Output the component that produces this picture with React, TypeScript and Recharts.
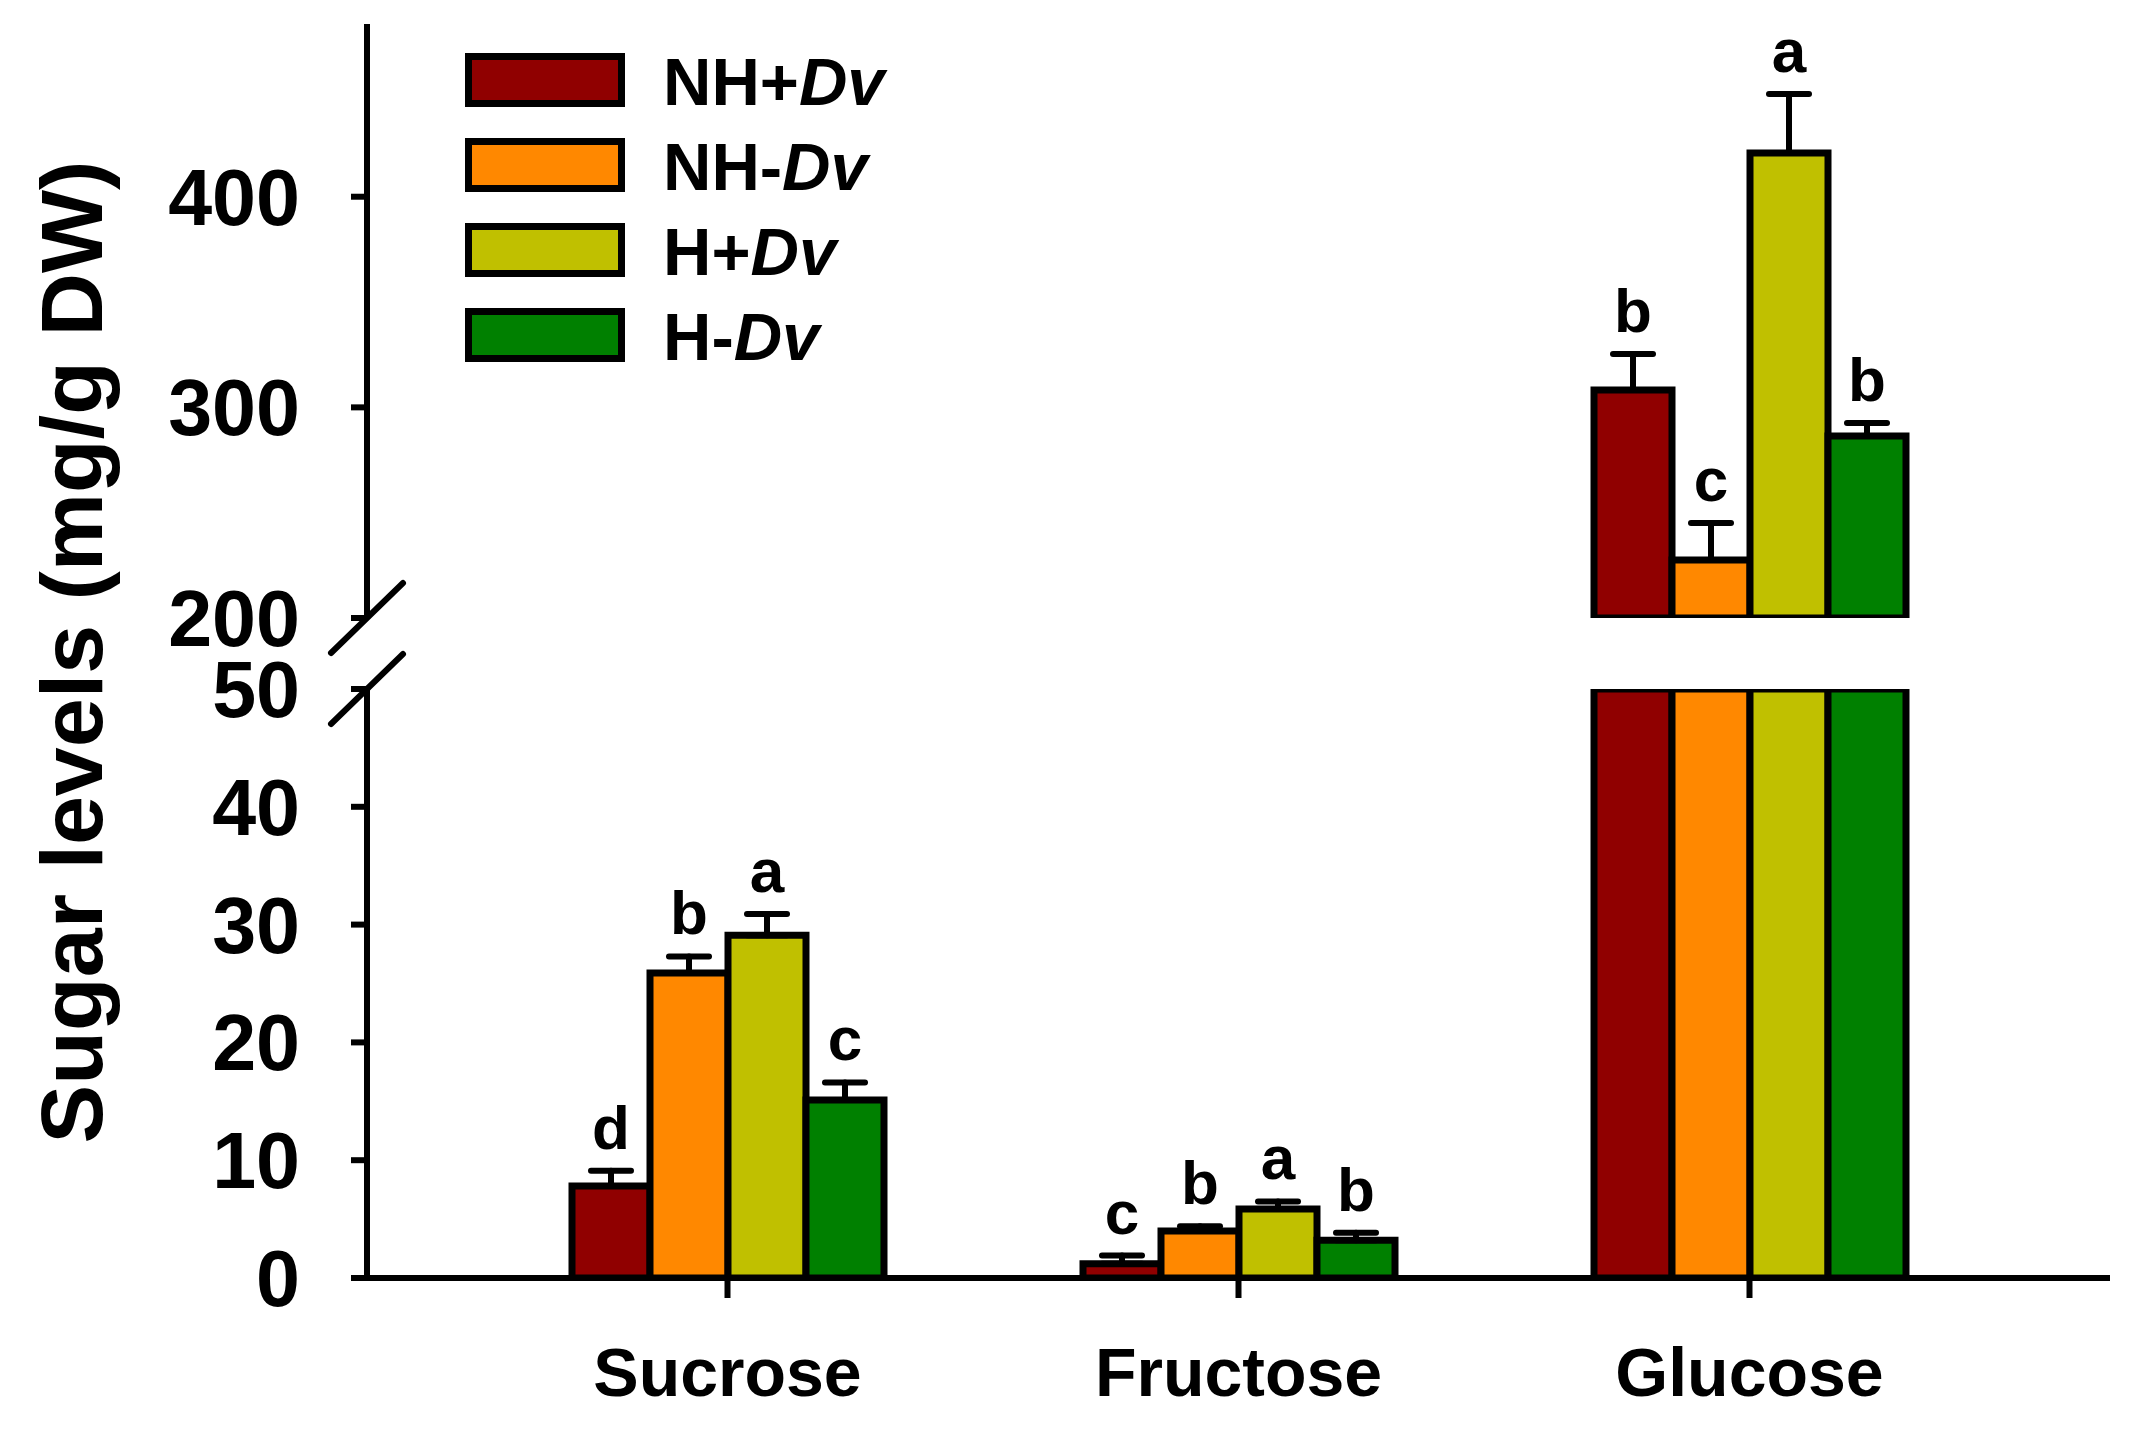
import React from "react";
import { BarChart, Bar, XAxis, YAxis, ErrorBar, LabelList, Legend } from "recharts";

// ---- data ----
const categories = ["Sucrose", "Fructose", "Glucose"];

const nhPlusDv = [7.8, 1.2, 308.3];
const nhPlusDvErr = [1.3, 0.7, 17];
const nhPlusDvLetters = ["d", "c", "b"];

const nhMinusDv = [25.9, 4.0, 227.5];
const nhMinusDvErr = [1.4, 0.4, 17.6];
const nhMinusDvLetters = ["b", "b", "c"];

const hPlusDv = [29.1, 5.85, 420.8];
const hPlusDvErr = [1.8, 0.65, 28];
const hPlusDvLetters = ["a", "a", "a"];

const hMinusDv = [15.1, 3.2, 286.4];
const hMinusDvErr = [1.5, 0.65, 6.2];
const hMinusDvLetters = ["c", "b", "b"];

const lowerTicks = [0, 10, 20, 30, 40, 50];
const upperTicks = [200, 300, 400];
const LOWER_MAX = 50;
const UPPER_MIN = 200;
const UPPER_MAX = 482;

const series = [
  { key: "nhPlus", name: "NH+Dv", color: "#900000", values: nhPlusDv, errs: nhPlusDvErr, letters: nhPlusDvLetters },
  { key: "nhMinus", name: "NH-Dv", color: "#FF8800", values: nhMinusDv, errs: nhMinusDvErr, letters: nhMinusDvLetters },
  { key: "hPlus", name: "H+Dv", color: "#C0C000", values: hPlusDv, errs: hPlusDvErr, letters: hPlusDvLetters },
  { key: "hMinus", name: "H-Dv", color: "#008000", values: hMinusDv, errs: hMinusDvErr, letters: hMinusDvLetters },
];

// lower panel: values clipped at the break; upper panel: only values above the break
const lowerData = categories.map((name, i) => {
  const row: any = { name };
  series.forEach((s) => {
    const v = s.values[i];
    row[s.key] = Math.min(v, LOWER_MAX);
    row[s.key + "Err"] = v <= LOWER_MAX ? [0, s.errs[i]] : null;
  });
  return row;
});

const upperData = categories.map((name, i) => {
  const row: any = { name };
  series.forEach((s) => {
    const v = s.values[i];
    row[s.key] = v >= UPPER_MIN ? v : null;
    row[s.key + "Err"] = v >= UPPER_MIN ? [0, s.errs[i]] : null;
  });
  return row;
});

const FONT = "'Liberation Sans', Arial, Helvetica, sans-serif";
const W = 2131;
const H = 1433;
const AXIS_X = 367;
const RIGHT_MARGIN = 21;
const UPPER_TOP = 24;
const UPPER_BOTTOM = 618;
const LOWER_TOP = 689;
const LOWER_BOTTOM = 1278;
const STROKE = 6;
const BAR_STROKE = 7;

// letter label sits above the error bar; category found from the label value (name)
const letterLabel = (s: any, show: (v: number) => boolean, base: number) => (props: any) => {
  const { x, y, width, height, value } = props;
  const i = categories.indexOf(String(value));
  if (i < 0) return null;
  const v = s.values[i];
  if (!show(v)) return null;
  const ppu = Number(height) / (v - base);
  const top = Number(y) - s.errs[i] * ppu;
  return (
    <text
      x={Number(x) + Number(width) / 2}
      y={top - 22}
      textAnchor="middle"
      fontFamily={FONT}
      fontWeight="bold"
      fontSize={62}
      fill="#000"
    >
      {s.letters[i]}
    </text>
  );
};

const LegendBox = () => (
  <svg width={420} height={85 * 4} style={{ overflow: "visible" }}>
    {series.map((s, i) => {
      const prefix = s.name.replace("Dv", "");
      return (
        <g key={s.key} transform={`translate(0, ${i * 85})`}>
          <rect x={3.5} y={3.5} width={153} height={47} fill={s.color} stroke="#000" strokeWidth={7} />
          <text x={198} y={52} fontFamily={FONT} fontWeight="bold" fontSize={67} fill="#000">
            {prefix}
            <tspan fontStyle="italic">Dv</tspan>
          </text>
        </g>
      );
    })}
  </svg>
);

const yTick = { fontSize: 79, fontWeight: "bold", fill: "#000", fontFamily: FONT };
const xTick = { fontSize: 68, fontWeight: "bold", fill: "#000", fontFamily: FONT };

export default function App() {
  const breakMark = (yc: number) => (
    <line
      x1={AXIS_X - 36}
      y1={yc + 35}
      x2={AXIS_X + 36}
      y2={yc - 35}
      stroke="#000"
      strokeWidth={STROKE}
      strokeLinecap="round"
    />
  );

  return (
    <div style={{ position: "absolute", left: 0, top: 0, width: W, height: H, background: "#fff", overflow: "hidden" }}>
      {/* lower panel 0-50 */}
      <div style={{ position: "absolute", left: 0, top: 0 }}>
        <BarChart
          width={W}
          height={H}
          data={lowerData}
          margin={{ top: LOWER_TOP, right: RIGHT_MARGIN, bottom: 0, left: 0 }}
          barCategoryGap={100}
          barGap={0}
        >
          <XAxis
            dataKey="name"
            height={H - LOWER_BOTTOM}
            padding={{ left: 105, right: 105 }}
            axisLine={{ stroke: "#000", strokeWidth: STROKE }}
            tickLine={{ stroke: "#000", strokeWidth: STROKE }}
            tickSize={20}
            tickMargin={50}
            tick={xTick}
            interval={0}
          />
          <YAxis
            width={AXIS_X}
            domain={[0, LOWER_MAX]}
            ticks={lowerTicks}
            allowDataOverflow
            axisLine={{ stroke: "#000", strokeWidth: STROKE }}
            tickLine={{ stroke: "#000", strokeWidth: STROKE }}
            tickSize={16}
            tickMargin={51}
            tick={yTick}
          />
          {series.map((s) => (
            <Bar
              key={s.key}
              dataKey={s.key}
              name={s.name}
              fill={s.color}
              stroke="#000"
              strokeWidth={BAR_STROKE}
              isAnimationActive={false}
            >
              <ErrorBar
                dataKey={s.key + "Err"}
                width={20}
                stroke="#000"
                strokeWidth={STROKE}
                strokeLinecap="round"
                direction="y"
              />
              <LabelList dataKey="name" content={letterLabel(s, (v) => v <= LOWER_MAX, 0)} />
            </Bar>
          ))}
        </BarChart>
      </div>

      {/* upper panel 200+ */}
      <div style={{ position: "absolute", left: 0, top: 0 }}>
        <BarChart
          width={W}
          height={680}
          data={upperData}
          margin={{ top: UPPER_TOP, right: RIGHT_MARGIN, bottom: 680 - UPPER_BOTTOM, left: 0 }}
          barCategoryGap={100}
          barGap={0}
        >
          <XAxis dataKey="name" hide padding={{ left: 105, right: 105 }} />
          <YAxis
            width={AXIS_X}
            domain={[UPPER_MIN, UPPER_MAX]}
            ticks={upperTicks}
            allowDataOverflow
            axisLine={{ stroke: "#000", strokeWidth: STROKE }}
            tickLine={{ stroke: "#000", strokeWidth: STROKE }}
            tickSize={16}
            tickMargin={51}
            tick={yTick}
          />
          <Legend
            layout="vertical"
            align="center"
            verticalAlign="middle"
            content={<LegendBox />}
            wrapperStyle={{ position: "absolute", left: 465, top: 53, width: 420, height: 340 }}
          />
          {series.map((s) => (
            <Bar
              key={s.key}
              dataKey={s.key}
              name={s.name}
              fill={s.color}
              stroke="#000"
              strokeWidth={BAR_STROKE}
              isAnimationActive={false}
            >
              <ErrorBar
                dataKey={s.key + "Err"}
                width={20}
                stroke="#000"
                strokeWidth={STROKE}
                strokeLinecap="round"
                direction="y"
              />
              <LabelList dataKey="name" content={letterLabel(s, (v) => v >= UPPER_MIN, UPPER_MIN)} />
            </Bar>
          ))}
        </BarChart>
      </div>

      {/* axis break marks and y-axis title */}
      <svg width={W} height={H} style={{ position: "absolute", left: 0, top: 0, pointerEvents: "none" }}>
        {breakMark(UPPER_BOTTOM)}
        {breakMark(LOWER_TOP)}
        <text
          transform={`translate(102, 652) rotate(-90)`}
          textAnchor="middle"
          fontFamily={FONT}
          fontWeight="bold"
          fontSize={88}
          fill="#000"
        >
          Sugar levels (mg/g DW)
        </text>
      </svg>
    </div>
  );
}
